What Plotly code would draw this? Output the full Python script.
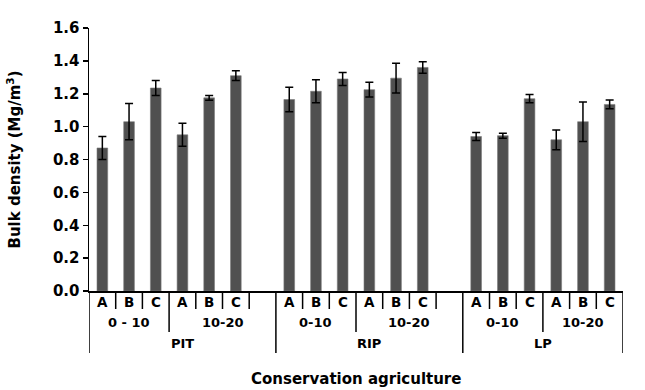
import plotly.graph_objects as go

# ---- data ----
groups = ["PIT", "RIP", "LP"]
depths = {"PIT": ["0 - 10", "10-20"], "RIP": ["0-10", "10-20"], "LP": ["0-10", "10-20"]}
treatments = ["A", "B", "C"]

pit_vals = [0.87, 1.03, 1.235, 0.95, 1.175, 1.31]
pit_err = [0.07, 0.11, 0.045, 0.07, 0.015, 0.03]
rip_vals = [1.165, 1.215, 1.29, 1.225, 1.295, 1.36]
rip_err = [0.075, 0.07, 0.04, 0.045, 0.09, 0.035]
lp_vals = [0.94, 0.945, 1.17, 0.92, 1.03, 1.135]
lp_err = [0.025, 0.015, 0.025, 0.06, 0.12, 0.027]

values = {"PIT": pit_vals, "RIP": rip_vals, "LP": lp_vals}
errors = {"PIT": pit_err, "RIP": rip_err, "LP": lp_err}

y_ticks = [0.0, 0.2, 0.4, 0.6, 0.8, 1.0, 1.2, 1.4, 1.6]

# ---- layout constants ----
W, H = 645, 390
ML, MR, MT, MB = 89, 22, 28, 99
PH = H - MT - MB
SLOTS_PER_GROUP = 7
N_SLOTS = SLOTS_PER_GROUP * (len(groups) - 1) + 6
FONT_WIDE = "DejaVu Sans, Arial, sans-serif"

xs, ys, es = [], [], []
for gi, g in enumerate(groups):
    for k in range(6):
        xs.append(gi * SLOTS_PER_GROUP + k)
        ys.append(values[g][k])
        es.append(errors[g][k])

fig = go.Figure()
fig.add_trace(go.Bar(
    x=xs, y=ys, width=0.4,
    marker=dict(color="#505050", line=dict(color="#7a7a7a", width=0.6)),
    error_y=dict(type="data", array=es, visible=True, color="black",
                 thickness=1.5, width=4),
    hoverinfo="skip",
))

shapes = []
annotations = []


def vline(x, depth_px):
    shapes.append(dict(type="line", xref="x", yref="paper",
                       x0=x, x1=x, y0=0, y1=-depth_px / PH,
                       line=dict(color="black", width=1.5)))


def label(x, text, off_px, size):
    annotations.append(dict(x=x, y=0, xref="x", yref="paper", yshift=-off_px,
                            text=text, showarrow=False, yanchor="middle",
                            xanchor="center",
                            font=dict(family=FONT_WIDE, size=size, color="black",
                                      weight="bold")))


R1, R2, R3 = 18, 41, 62
for gi, g in enumerate(groups):
    base = gi * SLOTS_PER_GROUP
    nslot = SLOTS_PER_GROUP if gi < len(groups) - 1 else 6
    for k in range(6):
        label(base + k, treatments[k % 3], 11, 13.5)
    for k in range(1, nslot):
        if k == 3:
            continue
        vline(base + k - 0.5, R1)
    vline(base + 2.5, R2)
    label(base + 1, depths[g][0], 31, 13)
    label(base + 2.5 + (nslot - 3) / 2, depths[g][1], 31, 13)
    vline(base - 0.5, R3)
    label(base - 0.5 + nslot / 2, g, 52, 13)
vline(N_SLOTS - 0.5, R3)

annotations.append(dict(x=0.5, y=0, xref="paper", yref="paper", yshift=-88,
                        text="Conservation agriculture", showarrow=False,
                        yanchor="middle", xanchor="center",
                        font=dict(family=FONT_WIDE, size=15, color="black",
                                  weight="bold")))

fig.update_layout(
    width=W, height=H,
    margin=dict(l=ML, r=MR, t=MT, b=MB),
    paper_bgcolor="white", plot_bgcolor="white",
    showlegend=False,
    shapes=shapes, annotations=annotations,
    xaxis=dict(range=[-0.5, N_SLOTS - 0.5], showticklabels=False, ticks="",
               showgrid=False, zeroline=False, showline=True,
               linecolor="black", linewidth=1.5, fixedrange=True),
    yaxis=dict(range=[0, 1.6], tickvals=y_ticks,
               ticktext=[f"{v:.1f}" for v in y_ticks],
               ticks="outside", ticklen=5, tickwidth=1.5, tickcolor="black",
               showgrid=False, zeroline=False, showline=True,
               linecolor="black", linewidth=1.5,
               tickfont=dict(family=FONT_WIDE, size=15, color="black",
                             weight="bold"),
               title=dict(text="Bulk density (Mg/m<sup>3</sup>)",
                          font=dict(family=FONT_WIDE, size=15, color="black",
                                    weight="bold"), standoff=28),
               automargin=False,
               fixedrange=True),
)

fig.write_html("out.html",
               config={"displayModeBar": False, "staticPlot": True},
               post_script="document.body.style.margin='0';")
